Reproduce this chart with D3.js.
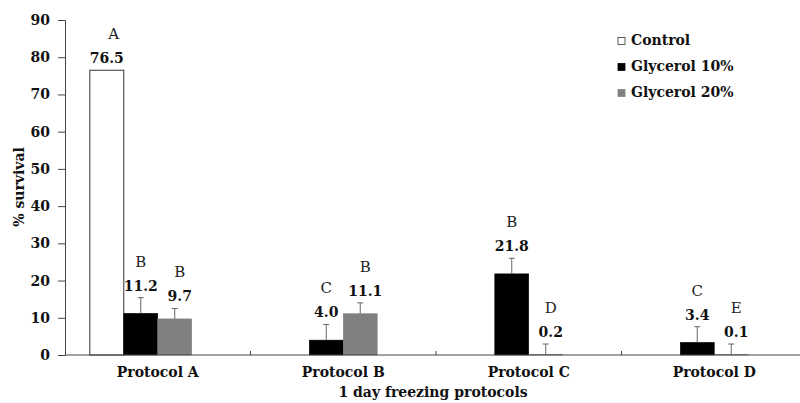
<!DOCTYPE html>
<html>
<head>
<meta charset="utf-8">
<script src="https://cdn.jsdelivr.net/npm/d3@7"></script>
<style>
  body { margin: 0; background: #fff; }
  svg { display: block; font-family: "DejaVu Serif", serif; }
</style>
</head>
<body>
<svg id="chart" width="800" height="403"></svg>
<script>
(function () {
  var protocols = ["Protocol A", "Protocol B", "Protocol C", "Protocol D"];
  // 4th slot is an empty series in the original sheet, it shifts the clusters left
  var seriesNames = ["Control", "Glycerol 10%", "Glycerol 20%", ""];
  var seriesColors = ["#ffffff", "#000000", "#808080"];

  var controlVals = [76.5, null, null, null];
  var gly10Vals = [11.2, 4.0, 21.8, 3.4];
  var gly20Vals = [9.7, 11.1, 0.2, 0.1];

  var controlErr = [0, null, null, null];
  var gly10Err = [4.2, 4.2, 4.2, 4.2];
  var gly20Err = [2.8, 2.9, 2.75, 2.85];

  var controlLetters = ["A", null, null, null];
  var gly10Letters = ["B", "C", "B", "C"];
  var gly20Letters = ["B", "B", "D", "E"];

  var yTicks = [0, 10, 20, 30, 40, 50, 60, 70, 80, 90];

  var vals = [controlVals, gly10Vals, gly20Vals];
  var errs = [controlErr, gly10Err, gly20Err];
  var letters = [controlLetters, gly10Letters, gly20Letters];

  var svg = d3.select("#chart");
  var left = 65, right = 807, top = 20, bottom = 355;
  var axisColor = "#444";

  var x0 = d3.scaleBand().domain(protocols).range([left, right]).padding(0);
  var x1 = d3.scaleBand().domain(d3.range(seriesNames.length))
    .range([0, x0.bandwidth()]).paddingInner(0).paddingOuter(0.73);
  var y = d3.scaleLinear().domain([0, 90]).range([bottom, top]);

  // bars
  var rows = [];
  for (var s = 0; s < vals.length; s++) {
    for (var i = 0; i < protocols.length; i++) {
      if (vals[s][i] == null) continue;
      rows.push({ s: s, p: protocols[i], v: vals[s][i], e: errs[s][i], l: letters[s][i] });
    }
  }

  var g = svg.append("g");

  g.selectAll("rect.bar").data(rows).enter().append("rect")
    .attr("class", "bar")
    .attr("x", function (d) { return x0(d.p) + x1(d.s); })
    .attr("width", x1.bandwidth())
    .attr("y", function (d) { return y(d.v); })
    .attr("height", function (d) { return y(0) - y(d.v); })
    .attr("fill", function (d) { return seriesColors[d.s]; })
    .attr("stroke", function (d) { return d.s === 0 ? "#333" : seriesColors[d.s]; })
    .attr("stroke-width", function (d) { return d.s === 0 ? 1 : 0.5; });

  // error bars (upper only)
  var errRows = rows.filter(function (d) { return d.e; });
  function cx(d) { return x0(d.p) + x1(d.s) + x1.bandwidth() / 2; }
  g.selectAll("line.err").data(errRows).enter().append("line")
    .attr("x1", cx).attr("x2", cx)
    .attr("y1", function (d) { return y(d.v); })
    .attr("y2", function (d) { return y(d.v + d.e); })
    .attr("stroke", "#666").attr("stroke-width", 1);
  g.selectAll("line.cap").data(errRows).enter().append("line")
    .attr("x1", function (d) { return cx(d) - 3; })
    .attr("x2", function (d) { return cx(d) + 3; })
    .attr("y1", function (d) { return y(d.v + d.e); })
    .attr("y2", function (d) { return y(d.v + d.e); })
    .attr("stroke", "#666").attr("stroke-width", 1);

  // value + significance labels
  var labelDx = [0, 0, 5];
  g.selectAll("text.val").data(rows).enter().append("text")
    .attr("x", function (d) { return cx(d) + labelDx[d.s]; })
    .attr("y", function (d) { return y(d.v + (d.e || 0)) - 7; })
    .attr("text-anchor", "middle")
    .attr("font-size", 14).attr("font-weight", "bold").attr("fill", "#111")
    .text(function (d) { return d.v.toFixed(1); });
  g.selectAll("text.let").data(rows).enter().append("text")
    .attr("x", function (d) { return cx(d) + labelDx[d.s] + (d.s === 0 ? 7 : 0); })
    .attr("y", function (d) { return y(d.v + (d.e || 0)) - 31; })
    .attr("text-anchor", "middle")
    .attr("font-size", 15).attr("fill", "#222")
    .text(function (d) { return d.l; });

  // x axis
  svg.append("line").attr("x1", left).attr("x2", right)
    .attr("y1", bottom).attr("y2", bottom).attr("stroke", axisColor);
  svg.selectAll("line.xtick").data(protocols.slice(1)).enter().append("line")
    .attr("x1", function (d) { return x0(d); }).attr("x2", function (d) { return x0(d); })
    .attr("y1", bottom).attr("y2", bottom - 4).attr("stroke", axisColor);
  svg.selectAll("text.xlab").data(protocols).enter().append("text")
    .attr("x", function (d) { return x0(d) + x0.bandwidth() / 2; })
    .attr("y", 377)
    .attr("text-anchor", "middle")
    .attr("font-size", 14).attr("font-weight", "bold").attr("fill", "#111")
    .text(function (d) { return d; });

  // y axis
  var yAxis = d3.axisLeft(y).tickValues(yTicks).tickSize(7).tickPadding(8);
  var ya = svg.append("g").attr("transform", "translate(" + left + ",0)").call(yAxis);
  ya.select(".domain").attr("stroke", axisColor);
  ya.selectAll(".tick line").attr("stroke", axisColor);
  ya.selectAll(".tick text")
    .attr("font-family", "DejaVu Serif, serif")
    .attr("font-size", 14).attr("font-weight", "bold").attr("fill", "#111");

  // titles
  svg.append("text")
    .attr("transform", "translate(24,187) rotate(-90)")
    .attr("text-anchor", "middle")
    .attr("font-size", 14).attr("font-weight", "bold").attr("fill", "#111")
    .text("% survival");
  svg.append("text")
    .attr("x", 433).attr("y", 397)
    .attr("text-anchor", "middle")
    .attr("font-size", 14).attr("font-weight", "bold").attr("fill", "#111")
    .text("1 day freezing protocols");

  // legend
  var leg = svg.append("g").attr("transform", "translate(618,41)");
  var legItems = leg.selectAll("g").data(seriesNames.slice(0, 3)).enter().append("g")
    .attr("transform", function (d, i) { return "translate(0," + i * 26 + ")"; });
  legItems.append("rect")
    .attr("x", 0).attr("y", -3.5).attr("width", 7).attr("height", 7)
    .attr("fill", function (d, i) { return seriesColors[i]; })
    .attr("stroke", function (d, i) { return i === 0 ? "#333" : seriesColors[i]; })
    .attr("stroke-width", 0.8);
  legItems.append("text")
    .attr("x", 13).attr("y", 4)
    .attr("font-size", 14).attr("font-weight", "bold").attr("fill", "#111")
    .text(function (d) { return d; });
})();
</script>
</body>
</html>
